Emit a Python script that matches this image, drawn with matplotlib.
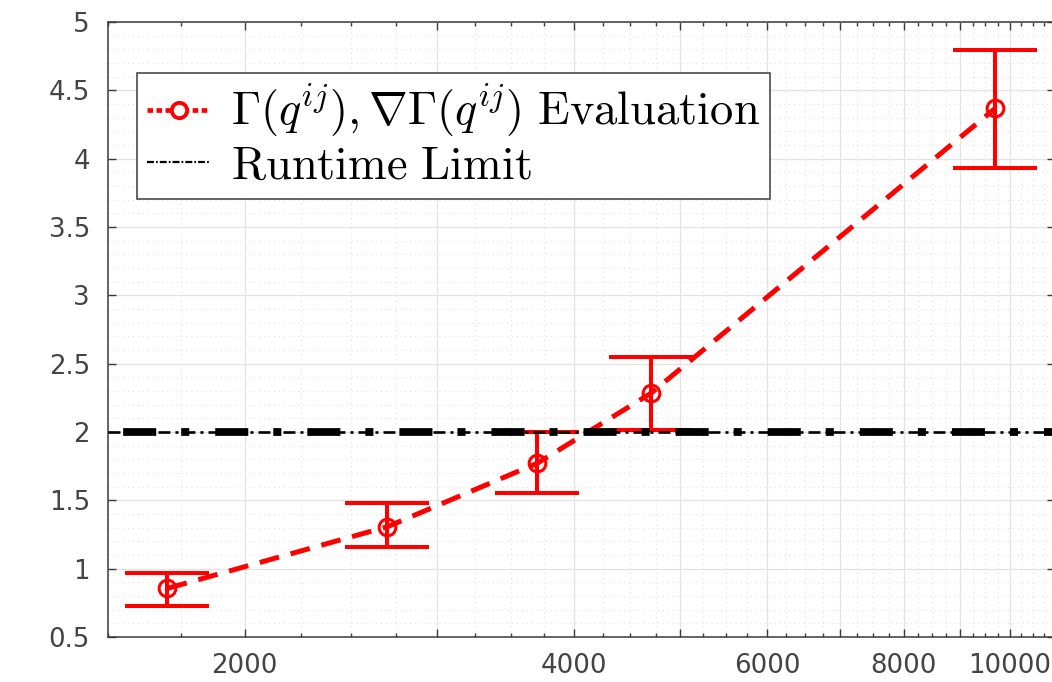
import matplotlib
matplotlib.use("Agg")
import matplotlib.pyplot as plt
import numpy as np
from matplotlib.ticker import FixedLocator, FixedFormatter, NullFormatter
from matplotlib.lines import Line2D

plt.rcParams["mathtext.fontset"] = "cm"
plt.rcParams["lines.scale_dashes"] = False
plt.rcParams["font.family"] = ["DejaVu Sans"]

# Measured evaluation time vs. problem size
problem_size = [1700, 2700, 3700, 4700, 9700]
eval_time = [0.856, 1.307, 1.771, 2.283, 4.368]
err_low = [0.127, 0.151, 0.215, 0.268, 0.439]
err_high = [0.110, 0.171, 0.231, 0.268, 0.427]
runtime_limit = 2.0

x_major = [2000, 3000, 4000, 5000, 6000, 7000, 8000, 9000, 10000]
x_labels = ["2000", "", "4000", "", "6000", "", "8000", "", "10000"]
y_ticks = [0.5, 1, 1.5, 2, 2.5, 3, 3.5, 4, 4.5, 5]
y_labels = ["0.5", "1", "1.5", "2", "2.5", "3", "3.5", "4", "4.5", "5"]

W, H, DPI = 1052, 682, 100

fig = plt.figure(figsize=(W / DPI, H / DPI), dpi=DPI)
ax = fig.add_axes([108 / W, 45 / H, (1055 - 108) / W, (637 - 22) / H])
ax.set_xscale("log")
ax.set_xlim(1500, 11000)
ax.set_ylim(0.5, 5)

axis_col = "#3a3a3a"
red = "#ff0000"

# grid: solid majors, dotted minors
x_minor = [v for v in np.arange(1500, 11001, 250) if v % 1000 != 0]
ax.xaxis.set_major_locator(FixedLocator(x_major))
ax.xaxis.set_major_formatter(FixedFormatter(x_labels))
ax.xaxis.set_minor_locator(FixedLocator(x_minor))
ax.xaxis.set_minor_formatter(NullFormatter())
ax.yaxis.set_major_locator(FixedLocator(y_ticks))
ax.yaxis.set_major_formatter(FixedFormatter(y_labels))
ax.yaxis.set_minor_locator(FixedLocator(np.round(np.arange(0.6, 5.0, 0.1), 2)))
ax.yaxis.set_minor_formatter(NullFormatter())

ax.grid(which="major", color="#e3e3e3", lw=0.9, ls="-", zorder=0)
ax.grid(which="minor", color="#e6e6e6", lw=0.8, ls=(0, (1, 2.5)), zorder=0)
ax.set_axisbelow(True)

ax.tick_params(which="both", direction="in", top=True, right=True,
               colors=axis_col, width=1.0)
ax.tick_params(axis="x", which="major", length=6, pad=11.5, labelsize=18.7,
               labelcolor="#444444")
ax.tick_params(axis="x", which="minor", length=3)
ax.tick_params(axis="y", which="major", length=6, pad=13, labelsize=18.7,
               labelcolor="#444444")
ax.tick_params(axis="y", which="minor", length=0)
for s in ax.spines.values():
    s.set_color(axis_col)
    s.set_linewidth(1.1)

# error bars and dashed trend through the means
ax.errorbar(problem_size, eval_time, yerr=[err_low, err_high], fmt="none",
            ecolor=red, elinewidth=2.9, capsize=30, capthick=2.9, zorder=3)
ax.plot(problem_size, eval_time, color=red, lw=3.6, dashes=(14.4, 8.6),
        marker="o", ms=12, mfc="none", mec=red, mew=2.2, zorder=4)

# runtime limit: thin dash-dot with heavy blocks on top
dashdot = (0, (8.6, 3.6, 2.2, 3.6))
ax.axhline(runtime_limit, color="k", lw=1.9, ls=dashdot, zorder=5)
ax.axhline(runtime_limit, color="k", lw=5.6,
           ls=(55.4, (23.8, 18.0, 5.8, 18.7)), zorder=5)

handles = [
    Line2D([], [], color=red, lw=3.4, dashes=(4, 2.5), marker="o", ms=11,
           mfc="white", mec=red, mew=2.8),
    Line2D([], [], color="k", lw=1.6, ls=(0, (5, 1.5, 1.2, 1.5))),
]
labels = [r"$\Gamma(q^{ij}),\nabla\Gamma(q^{ij})\ \mathrm{Evaluation}$",
          r"$\mathrm{Runtime\ Limit}$"]
leg = ax.legend(handles, labels, loc="upper left",
                bbox_to_anchor=(137 / W, 1 - 73 / H),
                bbox_transform=fig.transFigure, borderaxespad=0,
                fontsize=33.5, handlelength=1.35, handletextpad=0.45,
                borderpad=0.22, labelspacing=0.05, fancybox=False,
                framealpha=1, edgecolor=axis_col)
leg.get_frame().set_linewidth(1.1)
leg.set_zorder(10)

fig.savefig("out.png", dpi=DPI)
